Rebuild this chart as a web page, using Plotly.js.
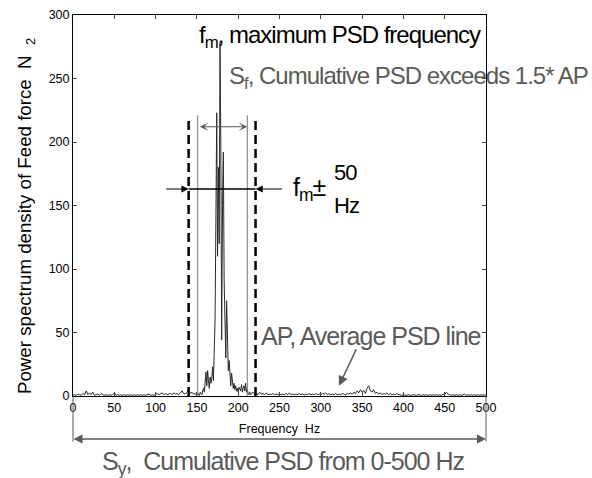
<!DOCTYPE html>
<html><head><meta charset="utf-8">
<script src="https://cdn.plot.ly/plotly-3.0.1.min.js"></script>
<style>body{margin:0;background:#fff}
.annotation-text{letter-spacing:-1px}
</style>
</head><body><div id="chart" style="width:592px;height:478px"></div>
<script>
const freq = [0,2,4,6,8,10,12,14,16,18,20,22,24,26,28,30,32,34,36,38,40,42,44,46,48,50,52,54,56,58,60,62,64,66,68,70,72,74,76,78,80,82,84,86,88,90,92,94,96,98,100,102,104,106,108,110,112,114,116,118,120,122,124,126,128,130,132,134,136,138,140,142,144,146,148,
149,150,151,152,153,154,155,156,157,158,159,160,161,162,163,164,165,166,167,168,169,170,171,172,173,174,175,176,177,178,179,180,181,182,183,184,185,186,187,188,189,190,191,192,193,194,195,196,197,198,199,200,201,202,203,204,205,206,207,208,209,210,211,212,213,214,215,216,
218,220,222,224,226,228,230,232,234,236,238,240,242,244,246,248,250,252,254,256,258,260,262,264,266,268,270,272,274,276,278,280,282,284,286,288,290,292,294,296,298,300,302,304,306,308,310,312,314,316,318,320,322,324,326,328,330,332,334,336,338,340,342,344,346,348,350,352,354,356,358,360,362,364,366,368,370,372,374,376,378,380,382,384,386,388,390,392,394,396,398,400,402,404,406,408,410,412,414,416,418,420,422,424,426,428,430,432,434,436,438,440,442,444,446,448,450,452,454,456,458,460,462,464,466,468,470,472,474,476,478,480,482,484,486,488,490,492,494,496,498,500];
const psd = [0.5,1,0.5,1.5,1,0.5,2,1,4,1,2.5,1,3,0.5,1,1.5,0.5,2,1,0.5,1,0.5,1,0.5,1,2.5,0.5,1,0.5,1,0.5,1,0.5,1,0.5,1,0.5,1,0.5,1,0.5,1,0.5,1,0.5,1,1.5,0.5,1,0.5,1,2,1,1.5,2.5,1,2,1,1.5,2,1,2.5,1.5,2,1,2.5,4,2,1.5,3,5,2,3,1.5,2,
1,1,2,1,0.5,3,2,1,4,6,3,10,19,8,20,12,6,15,10,14,23,12,35,60,140,223,110,180,120,278,195,44,150,192,90,45,30,75,38,20,28,15,8,18,12,6,10,5,8,4,6,3,7,5,4,9,3,6,8,4,10,3,5,2,1,3,1,2,
3,1.5,2,1,3,1.5,2,1,2.5,1,1.5,1,2,1,1.5,1,2,1,1.5,1,2,1,2.5,1,1.5,1,1.5,1,2,1,1.5,1,1.5,1,2,1,1.5,1,2,1,1.5,1,2,1.5,2.5,1,2,1,1.5,1,2,1,1.5,1,2,1.5,1,2,1.5,2.5,1.5,3,2,4,2.5,5,3,4.5,2,6,8,4,3,5,2,3,1.5,2.5,1,2,1.5,2.5,1,2,1,1.5,1,2,1,1,0.5,1,0.5,0.5,1,0.5,0.5,1,0.5,0.5,1,0.5,0.5,1,0.5,1,0.5,1,0.5,1,0.5,1,0.5,1,0.5,1.5,1,3,1.5,1,0.5,1,0.5,1,0.5,1,0.5,1,1.5,0.5,1,0.5,1,0.5,1,0.5,1,0.5,1,0.5,1,0.5];
const xTicks = [0,50,100,150,200,250,300,350,400,450,500];
const yTicks = [0,50,100,150,200,250,300];

const FONT = 'Liberation Sans, Arial, sans-serif';
const GRAY = '#5a5a5a';

const trace = {x: freq, y: psd, type:'scatter', mode:'lines', line:{color:'#2a2a2a', width:1}, hoverinfo:'skip'};

const layout = {
  width:592, height:478,
  margin:{l:73, r:106, t:15, b:82},
  paper_bgcolor:'#fff', plot_bgcolor:'#fff',
  showlegend:false,
  font:{family:FONT, color:'#000', size:12},
  xaxis:{range:[0,500], tickvals:xTicks, ticks:'inside', ticklen:4, mirror:'ticks', showline:true, linecolor:'#000', linewidth:1,
    showgrid:false, zeroline:false, tickfont:{size:12.5, family:FONT},
    title:{text:'Frequency  Hz', font:{size:12.5, family:FONT}, standoff:10}},
  yaxis:{range:[0,300], tickvals:yTicks, ticks:'inside', ticklen:4, mirror:'ticks', showline:true, linecolor:'#000', linewidth:1,
    showgrid:false, zeroline:false, tickfont:{size:12.5, family:FONT},
    title:{text:'Power spectrum density of Feed force  N&nbsp;&nbsp;<sub>2</sub>&nbsp;&nbsp;&nbsp;&nbsp;', font:{size:18.7, family:FONT}, standoff:12}},
  shapes:[
    {type:'line', xref:'x', yref:'y', x0:140, x1:140, y0:0, y1:219, line:{color:'#000', width:2.5, dash:'9px,5px'}},
    {type:'line', xref:'x', yref:'y', x0:221, x1:221, y0:0, y1:219, line:{color:'#000', width:2.5, dash:'9px,5px'}},
    {type:'line', xref:'x', yref:'y', x0:151, x1:151, y0:0, y1:221, line:{color:'#777', width:1}},
    {type:'line', xref:'x', yref:'y', x0:211, x1:211, y0:0, y1:221, line:{color:'#777', width:1}},
    {type:'line', xref:'x', yref:'y', x0:140, x1:221, y0:163, y1:163, line:{color:'#000', width:1.5}},
    {type:'line', xref:'paper', yref:'paper', x0:0, x1:0, y0:0, y1:-0.12, line:{color:GRAY, width:1}},
    {type:'line', xref:'paper', yref:'paper', x0:1, x1:1, y0:0, y1:-0.12, line:{color:GRAY, width:1}}
  ],
  annotations:[
    {xref:'x', yref:'y', x:150, y:283, xanchor:'left', text:'f<sub>m</sub>, maximum PSD frequency', showarrow:false, font:{size:24, color:'#000', family:FONT}},
    {xref:'x', yref:'y', x:187, y:251, xanchor:'left', text:'S<sub>f</sub>, Cumulative PSD exceeds 1.5* AP', showarrow:false, font:{size:24, color:GRAY, family:FONT}},
    {xref:'x', yref:'y', x:264, y:163, xanchor:'left', text:'f<sub>m</sub>±', showarrow:false, font:{size:25, color:'#000', family:FONT}},
    {xref:'x', yref:'y', x:313, y:176, xanchor:'left', text:'50', showarrow:false, font:{size:22, color:'#000', family:FONT}},
    {xref:'x', yref:'y', x:313, y:150, xanchor:'left', text:'Hz', showarrow:false, font:{size:22, color:'#000', family:FONT}},
    {xref:'x', yref:'y', x:225, y:47, xanchor:'left', text:'AP, Average PSD line', showarrow:false, font:{size:25, color:GRAY, family:FONT}},
    {xref:'x', yref:'y', x:322, y:8, ax:18, ay:-38, text:'', showarrow:true, arrowhead:2, arrowsize:1.3, arrowwidth:1.5, arrowcolor:GRAY},
    {xref:'x', yref:'y', x:140, y:163, ax:-24, ay:0, text:'', showarrow:true, arrowhead:2, arrowsize:1.2, arrowwidth:1.2, arrowcolor:'#000'},
    {xref:'x', yref:'y', x:221, y:163, ax:28, ay:0, text:'', showarrow:true, arrowhead:2, arrowsize:1.2, arrowwidth:1.2, arrowcolor:'#000'},
    {xref:'x', yref:'y', x:211, y:212, ax:-49, ay:0, text:'', showarrow:true, arrowhead:3, arrowside:'end+start', arrowsize:1.2, arrowwidth:1.2, arrowcolor:GRAY},
    {xref:'paper', yref:'paper', x:1, y:-0.113, ax:-414, ay:0, text:'', showarrow:true, arrowhead:2, arrowside:'end+start', arrowsize:1.2, arrowwidth:1.5, arrowcolor:GRAY},
    {xref:'paper', yref:'paper', x:0.51, y:-0.128, yanchor:'top', text:'S<sub>y</sub>,  Cumulative PSD from 0-500 Hz', showarrow:false, font:{size:25, color:GRAY, family:FONT}}
  ]
};
Plotly.newPlot('chart', [trace], layout, {staticPlot:true});
</script></body></html>
